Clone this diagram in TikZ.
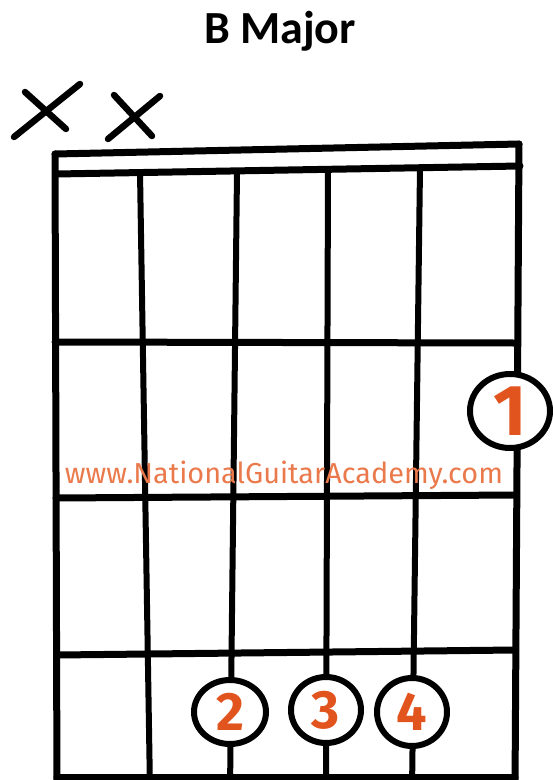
\documentclass[tikz,border=0pt]{standalone}
\usepackage{fontspec}
\usepackage{graphicx}
\setmainfont{Carlito}
\newfontfamily\digitfont{Fira Sans}
\newfontfamily\wmfont{Fira Sans}
\usetikzlibrary{shapes.geometric}
\definecolor{fingerorange}{RGB}{226,84,30}
\definecolor{markorange}{RGB}{234,122,76}
\tikzset{
  frameline/.style={line width=7pt, line cap=round, line join=round},
  stringline/.style={line width=6pt, line cap=round},
  muteline/.style={line width=6.5pt, line cap=round},
  finger/.style={ellipse, draw, line width=6pt, fill=white, inner sep=0pt,
    text=fingerorange, font=\digitfont\bfseries\fontsize{54}{54}\selectfont},
}
\begin{document}
\begin{tikzpicture}[x=1pt,y=-1pt]
\fill[white] (0,0) rectangle (553,780);
\useasboundingbox (0,0) rectangle (553,780);

% title
\node[anchor=base, font=\bfseries\fontsize{46}{46}\selectfont] (title) at (280,43) {B Major};

% muted strings
\coordinate (xa1) at (14,137); \coordinate (xa2) at (80,84);
\coordinate (xa3) at (25,92);  \coordinate (xa4) at (66,129);
\coordinate (xb1) at (108,139); \coordinate (xb2) at (160,96);
\coordinate (xb3) at (114,95);  \coordinate (xb4) at (152,136);
\draw[muteline] (xa1) -- (xa2);
\draw[muteline] (xa3) -- (xa4);
\draw[muteline] (xb1) -- (xb2);
\draw[muteline] (xb3) -- (xb4);

% frame corners
\coordinate (tl) at (55,154);
\coordinate (tr) at (519,144);
\coordinate (nl) at (56,174);
\coordinate (nr) at (520,166);
\coordinate (bl) at (57,790);
\coordinate (br) at (515,790);

% nut
\draw[frameline] (tl) -- (tr);
\draw[frameline] (nl) -- (nr);
% borders
\draw[frameline] (tl) -- (bl);
\draw[frameline] (tr) -- (br);

% frets
\coordinate (f1l) at (55,342); \coordinate (f1r) at (516,343);
\coordinate (f2l) at (56,498); \coordinate (f2r) at (516,495);
\coordinate (f3l) at (57,655); \coordinate (f3r) at (515,650);
\coordinate (f4l) at (57,777); \coordinate (f4r) at (515,777);
\draw[frameline] (f1l) -- (f1r);
\draw[frameline] (f2l) -- (f2r);
\draw[frameline] (f3l) -- (f3r);
\draw[frameline] (f4l) -- (f4r);

% strings
\coordinate (s1t) at (140,172); \coordinate (s1b) at (150,790);
\coordinate (s2t) at (237,172); \coordinate (s2b) at (230,790);
\coordinate (s3t) at (328,170); \coordinate (s3b) at (326,790);
\coordinate (s4t) at (420,168); \coordinate (s4b) at (412,790);
\draw[stringline] (s1t) -- (s1b);
\draw[stringline] (s2t) -- (s2b);
\draw[stringline] (s3t) -- (s3b);
\draw[stringline] (s4t) -- (s4b);

% watermark
\node[anchor=base, text=markorange, inner sep=0pt] (wm) at (284,483)
  {\resizebox{438pt}{!}{\wmfont www.NationalGuitarAcademy.com}};

% fingers
\node[finger, minimum width=80pt, minimum height=74pt,
  font=\digitfont\bfseries\fontsize{72}{72}\selectfont] (p1) at (510,411) {1};
\node[finger, minimum width=72pt, minimum height=64pt] (p2) at (230,712) {2};
\node[finger, minimum width=70pt, minimum height=66pt] (p3) at (326,710) {3};
\node[finger, minimum width=70pt, minimum height=68pt] (p4) at (412,712) {4};
\end{tikzpicture}
\end{document}
